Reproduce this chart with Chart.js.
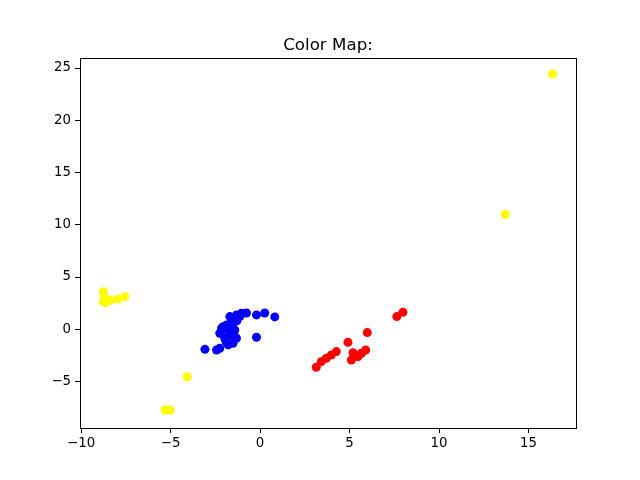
<!DOCTYPE html>
<html>
<head>
<meta charset="utf-8">
<script src="https://cdn.jsdelivr.net/npm/chart.js@4.4.0/dist/chart.umd.min.js"></script>
<style>
  body { margin: 0; background: #fff; }
  canvas { display: block; }
</style>
</head>
<body>
<canvas id="scatterChart" width="640" height="480"></canvas>
<script>
const titleText = "Color Map:";

const xTicks = [-10, -5, 0, 5, 10, 15];
const yTicks = [-5, 0, 5, 10, 15, 20, 25];

const yellowX = [16.34, 13.70, -4.07, -5.31, -5.04, -5.18, -8.76, -8.76, -8.70, -8.38, -7.95, -7.55, -8.62];
const yellowY = [24.43, 10.98, -4.54, -7.73, -7.73, -7.73, 3.60, 2.64, 3.10, 2.78, 2.90, 3.12, 2.55];

const blueX = [-3.08, -2.43, -2.25, -1.78, -1.51, -1.32, -0.20, -1.97, -1.69, -2.25, -2.15, -1.87, -1.60,
    -1.69, -1.32, -1.13, -1.04, -0.76, -0.20, 0.26, 0.82, -1.41, -2.06, -1.50,
    -1.80, -1.55, -1.75, -1.30, -1.90, -1.45];
const blueY = [-1.92, -1.98, -1.82, -1.50, -1.34, -0.86, -0.77, -0.86, -0.55, -0.38, 0.10, 0.41, 0.73,
    1.21, 1.37, 1.21, 1.53, 1.56, 1.37, 1.56, 1.18, -0.07, 0.25, 1.05,
    0.00, 0.30, -0.30, 0.80, -1.20, -0.60];

const redX = [3.14, 3.42, 3.70, 3.98, 4.26, 4.91, 5.10, 5.19, 5.47, 5.66, 5.90, 5.99, 7.64, 7.98];
const redY = [-3.64, -3.10, -2.78, -2.46, -2.14, -1.25, -2.94, -2.24, -2.62, -2.30, -1.98, -0.32, 1.21, 1.63];

function toPoints(xs, ys) {
    return xs.map((x, i) => ({ x: x, y: ys[i] }));
}

const fontFamily = "'DejaVu Sans', sans-serif";

// draws the title and the top/right spines like matplotlib
const framePlugin = {
    id: "frame",
    afterDraw(chart) {
        const ctx = chart.ctx;
        const a = chart.chartArea;
        ctx.save();
        ctx.strokeStyle = "#000";
        ctx.lineWidth = 1;
        ctx.strokeRect(Math.round(a.left) + 0.5, Math.round(a.top) + 0.5,
            Math.round(a.right - a.left), Math.round(a.bottom - a.top));
        ctx.fillStyle = "#000";
        ctx.font = "16.7px " + fontFamily;
        ctx.textAlign = "center";
        ctx.textBaseline = "alphabetic";
        ctx.fillText(titleText, (a.left + a.right) / 2, a.top - 8);
        ctx.restore();
    }
};

function fixTicks(values) {
    return function (scale) {
        scale.ticks = values.map(v => ({ value: v }));
    };
}

const tickLabel = v => String(v).replace("-", "\u2212");

new Chart(document.getElementById("scatterChart"), {
    type: "scatter",
    data: {
        datasets: [
            { data: toPoints(yellowX, yellowY), backgroundColor: "#ffff00" },
            { data: toPoints(blueX, blueY), backgroundColor: "#0000ff" },
            { data: toPoints(redX, redY), backgroundColor: "#ff0000" }
        ]
    },
    options: {
        responsive: false,
        animation: false,
        layout: { padding: { top: 58, right: 64, left: 0, bottom: 0 } },
        elements: { point: { radius: 4.5, borderWidth: 0, hoverRadius: 4.5 } },
        plugins: {
            legend: { display: false },
            title: { display: false },
            tooltip: { enabled: false }
        },
        scales: {
            x: {
                type: "linear",
                min: -10.06,
                max: 17.65,
                afterBuildTicks: fixTicks(xTicks),
                afterFit: s => { s.height = 52; },
                border: { display: true, color: "#000", width: 1 },
                grid: { drawOnChartArea: false, drawTicks: true, tickLength: 5, color: "#000" },
                ticks: {
                    color: "#000",
                    padding: 3,
                    maxRotation: 0,
                    font: { family: fontFamily, size: 13.3 },
                    callback: tickLabel
                }
            },
            y: {
                type: "linear",
                min: -9.45,
                max: 25.96,
                afterBuildTicks: fixTicks(yTicks),
                afterFit: s => { s.width = 80; },
                border: { display: true, color: "#000", width: 1 },
                grid: { drawOnChartArea: false, drawTicks: true, tickLength: 5, color: "#000" },
                ticks: {
                    color: "#000",
                    padding: 4,
                    font: { family: fontFamily, size: 13.3 },
                    callback: tickLabel
                }
            }
        }
    },
    plugins: [framePlugin]
});
</script>
</body>
</html>
